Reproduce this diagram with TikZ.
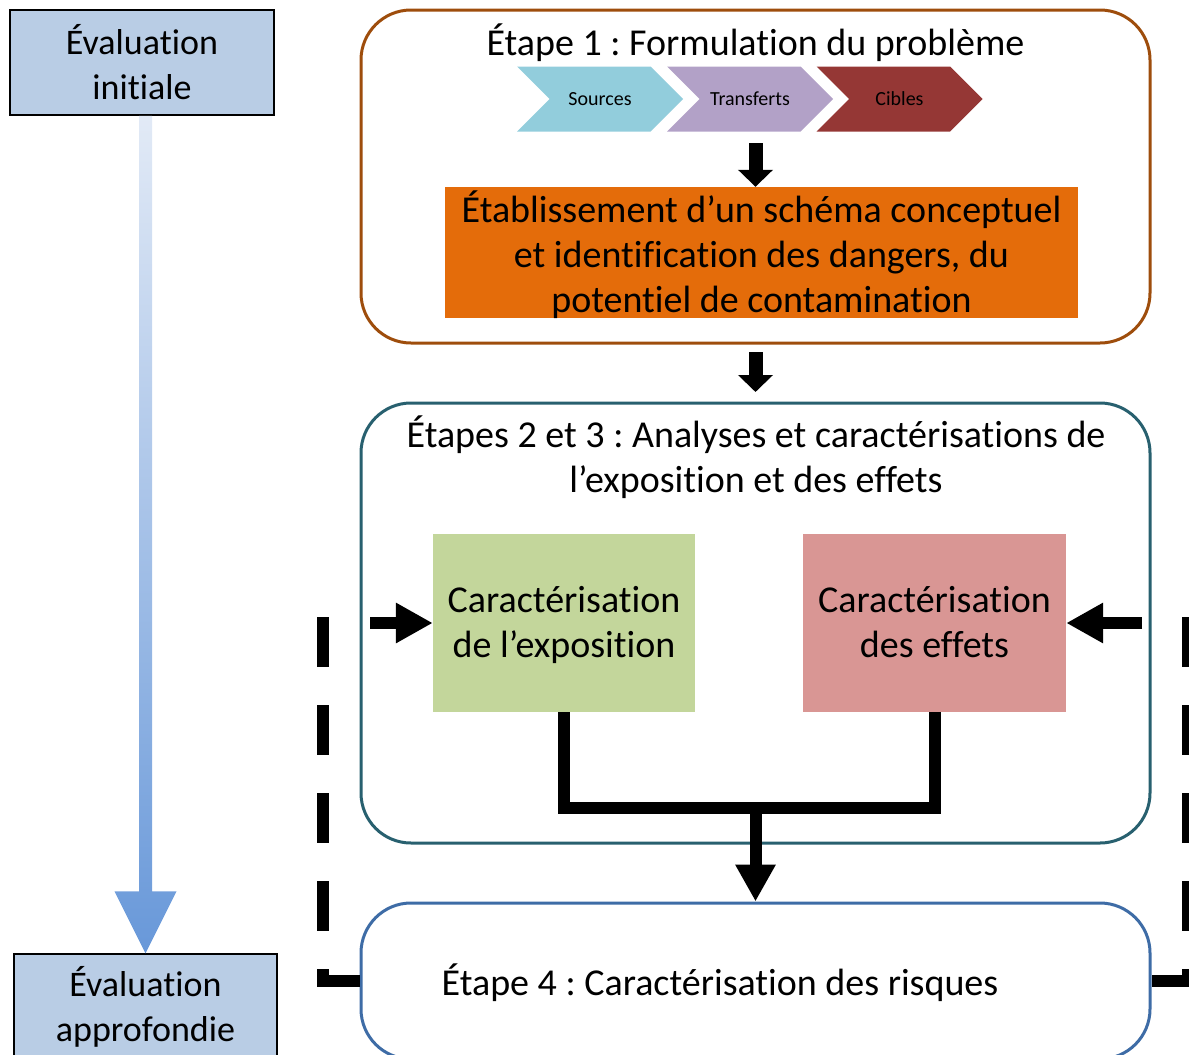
\documentclass[tikz,border=0pt]{standalone}
\usepackage{fontspec}
\setmainfont{Carlito}[Ligatures=NoCommon]
\usetikzlibrary{arrows.meta}
\usetikzlibrary{shapes.symbols}
\usetikzlibrary{calc}
\frenchspacing

\definecolor{evalblue}{HTML}{B9CDE5}
\definecolor{gradtop}{HTML}{E2EAF6}
\definecolor{gradbot}{HTML}{6898D9}
\definecolor{brownline}{HTML}{9E4D0C}
\definecolor{tealline}{HTML}{28606F}
\definecolor{blueline}{HTML}{3E6CA6}
\definecolor{srccol}{HTML}{92CDDC}
\definecolor{trfcol}{HTML}{B2A1C7}
\definecolor{cibcol}{HTML}{953735}
\definecolor{dangcol}{HTML}{E46C0A}
\definecolor{expcol}{HTML}{C3D69B}
\definecolor{effcol}{HTML}{D99694}

\begin{document}
\begin{tikzpicture}[x=1pt, y=-1pt,
    bigtext/.style={font=\fontsize{38}{45}\selectfont},
    evalbox/.style={draw=black, line width=1.5pt, fill=evalblue, align=center,
        inner sep=0pt, minimum width=264pt, minimum height=105pt,
        font=\fontsize{36}{45}\selectfont},
    stagebox/.style={draw, line width=3pt, rounded corners=50pt,
        minimum width=789pt, inner sep=0pt},
    colbox/.style={inner sep=0pt, align=center, text depth=2pt, bigtext},
    chev/.style={signal, signal to=east, signal from=west,
        signal pointer angle=90, minimum width=166pt, minimum height=65pt,
        inner sep=0pt, font=\fontsize{20}{24}\selectfont},
    fatarrow/.style={line width=12pt, -{Triangle[width=38pt,length=37pt]}},
    smallarrow/.style={line width=14pt, -{Triangle[width=34pt,length=17pt]}},
    fbline/.style={line width=12pt, dash pattern=on 50pt off 38pt}]
    \useasboundingbox (0,0) rectangle (1189,1055);
    \clip (0,0) rectangle (1189,1055);

    % levels of the assessment
    \node[evalbox] (ei) at (142,62.5) {Évaluation\\initiale};
    \node[evalbox, minimum width=263pt, minimum height=106pt] (ea) at (145.5,1007)
        {Évaluation\\approfondie};
    \shade[top color=gradtop, bottom color=gradbot]
        let \p1=(ea.north), \p2=(ei.south) in
        (\x1-6.5pt,\y2) -- (\x1+6.5pt,\y2) -- (\x1+6.5pt,\y1+62pt)
        -- (\x1+31pt,\y1+62pt) -- (\x1,\y1) -- (\x1-31pt,\y1+62pt)
        -- (\x1-6.5pt,\y1+62pt) -- cycle;

    % step 1
    \node[stagebox, draw=brownline, minimum height=333pt] (e1) at (755.5,176.5) {};
    \node[bigtext] (t1) at (755.5,43) {Étape 1 : Formulation du problème};
    \node[chev, fill=srccol] (src) at (600,99) {Sources};
    \node[chev, fill=trfcol] (trf) at (750,99) {Transferts};
    \node[chev, fill=cibcol] (cib) at (899.5,99) {Cibles};
    \node[colbox, fill=dangcol, minimum width=633pt, minimum height=131pt] (dang)
        at (761.5,252.5) {Établissement d’un schéma conceptuel\\et identification des dangers, du\\potentiel de contamination};
    \coordinate (a1) at (755.5,143);
    \draw[smallarrow] (a1) -- (a1 |- dang.north);
    \coordinate (a2) at (755.5,352);
    \coordinate (a3) at (755.5,392);
    \draw[smallarrow] (a2) -- (a3);

    % steps 2 and 3
    \node[stagebox, draw=tealline, minimum height=440pt] (e2) at (755.5,623) {};
    \node[bigtext, align=center] (t2) at (756,457.5)
        {Étapes 2 et 3 : Analyses et caractérisations de\\l’exposition et des effets};
    \node[colbox, fill=expcol, minimum width=262pt, minimum height=178pt] (expo)
        at (564,623) {Caractérisation\\de l’exposition};
    \node[colbox, fill=effcol, minimum width=263pt, minimum height=178pt] (eff)
        at (934.5,623) {Caractérisation\\des effets};
    \coordinate (lin) at (370,623);
    \coordinate (rin) at (1142,623);
    \draw[fatarrow] (lin) -- (expo.west);
    \draw[fatarrow] (rin) -- (eff.east);

    % step 4
    \node[stagebox, draw=blueline, minimum height=156pt] (e4) at (755.5,981) {};
    \node[bigtext] (t4) at (720,983) {Étape 4 : Caractérisation des risques};
    \draw[line width=12pt] (expo.south) -- ++(0,96) -| (eff.south);
    \coordinate (merge) at (755.5,802);
    \draw[fatarrow] (merge) -- (e4.north);

    % feedback loops
    \coordinate (lfb) at (323,617);
    \coordinate (rfb) at (1188,617);
    \draw[fbline] (lfb) |- (e4.west);
    \draw[fbline] (rfb) |- (e4.east);
\end{tikzpicture}
\end{document}
